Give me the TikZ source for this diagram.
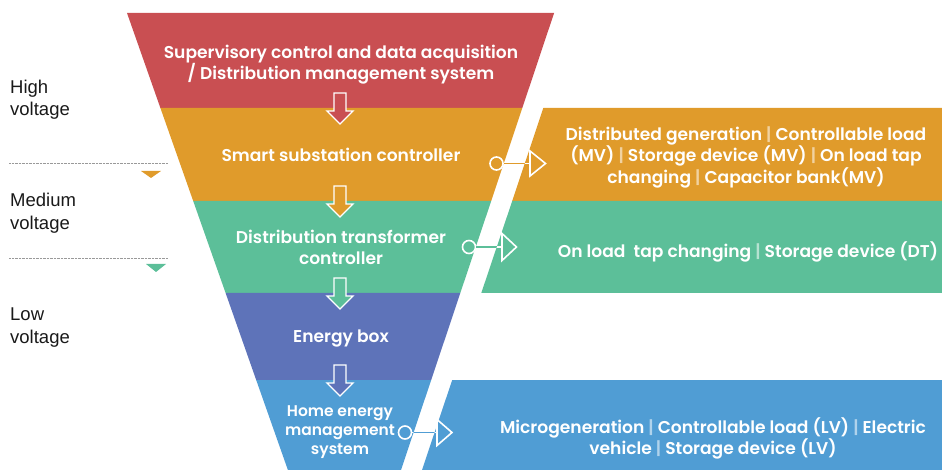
\documentclass[tikz,border=0pt]{standalone}
\usepackage{fontspec}
\setmainfont{Poppins}[BoldFont={Poppins SemiBold}]
\newfontfamily\arialfont{Liberation Sans}
\usetikzlibrary{calc}
\definecolor{cred}{RGB}{201,79,82}
\definecolor{corange}{RGB}{224,155,43}
\definecolor{cgreen}{RGB}{92,191,153}
\definecolor{cdblue}{RGB}{94,115,185}
\definecolor{clblue}{RGB}{80,157,212}
\newcommand\mysep[1]{\ {\color{white!55!#1}|}\ }
\tikzset{
  band/.style={fill=#1, draw=none},
  maintext/.style={text=white, font=\bfseries\fontsize{17.1}{21}\selectfont, align=center, inner sep=0pt},
  sidetext/.style={text=white, font=\bfseries\fontsize{17.1}{21.5}\selectfont, align=center, inner sep=0pt},
  levellabel/.style={anchor=north west, font=\arialfont\fontsize{18.5}{22.5}\selectfont, align=left, inner sep=0pt, text=black!90},
  dotline/.style={draw=black!40, line width=0.6pt, dash pattern=on 0.7pt off 0.7pt},
  conncirc/.style={circle, draw=white, line width=1.6pt, fill=#1, minimum size=13pt, inner sep=0pt},
  connline/.style={draw=white, line width=1.8pt},
  blockarrow/.pic={
    \path[fill=#1, draw=white, line width=1.3pt, line join=miter]
      (-6,-15) -- (6,-15) -- (6,3) -- (13,3) -- (0,16) -- (-13,3) -- (-6,3) -- cycle;
  },
}
\begin{document}
\begin{tikzpicture}[x=1pt,y=-1pt]
\useasboundingbox (0,0) rectangle (942,470);
% funnel bands
\path[band=cred] (127,13) -- (554.1,13) -- (522.3,108) -- (160.4,108) -- cycle;
\path[band=corange] (160.4,108) -- (522.3,108) -- (491.2,201) -- (193.2,201) -- cycle;
\path[band=cgreen] (193.2,201) -- (491.2,201) -- (460.3,293) -- (225.6,293) -- cycle;
\path[band=cdblue] (225.6,293) -- (460.3,293) -- (431.2,380) -- (256.2,380) -- cycle;
\path[band=clblue] (256.2,380) -- (431.2,380) -- (401,470) -- (287.9,470) -- cycle;
% right panels
\path[band=corange] (543.3,108) -- (942,108) -- (942,201) -- (512.2,201) -- cycle;
\path[band=cgreen] (512.2,201) -- (942,201) -- (942,293) -- (481.3,293) -- cycle;
\path[band=clblue] (452.2,380) -- (942,380) -- (942,470) -- (422,470) -- cycle;

% block arrows
\pic at (340,108) {blockarrow=cred};
\pic at (340,201) {blockarrow=corange};
\pic at (340,293) {blockarrow=cgreen};
\pic at (340,380) {blockarrow=cdblue};

% funnel texts
\node[maintext] (scada) at (341,64.5) {Supervisory control and data acquisition\\/ Distribution management system};
\node[maintext] (smart) at (341,154.5) {Smart substation controller};
\node[maintext] (dtc) at (341,247) {Distribution transformer\\controller};
\node[maintext] (ebox) at (341,338.5) {Energy box};
\node[maintext, font=\bfseries\fontsize{15.5}{19.2}\selectfont] (hems) at (340,432) {Home energy\\management\\system};

% right panel texts
\node[sidetext] (mvdev) at (746,157) {Distributed generation\mysep{corange}Controllable load\\(MV)\mysep{corange}Storage device (MV)\mysep{corange}On load tap\\changing\mysep{corange}Capacitor bank(MV)};
\node[sidetext] (dtdev) at (748,252) {On load\ \ tap changing\mysep{cgreen}Storage device (DT)};
\node[sidetext] (lvdev) at (713,438.5) {Microgeneration\mysep{clblue}Controllable load (LV)\mysep{clblue}Electric\\vehicle\mysep{clblue}Storage device (LV)};

% connectors
\node[conncirc=corange] (c1) at (496.5,163.5) {};
\coordinate (t1) at (530,163.5);
\node[conncirc=cgreen] (c2) at (469,247) {};
\coordinate (t2) at (502,247);
\node[conncirc=clblue] (c3) at (405,432.5) {};
\coordinate (t3) at (437,432.5);
\draw[connline] (c1.east) -- (t1);
\draw[connline] (c2.east) -- (t2);
\draw[connline] (c3.east) -- (t3);
\begin{scope}
  \clip (554.1,13) -- (575.1,13) -- (422,470) -- (401,470) -- cycle;
  \draw[draw=corange, line width=1.8pt] (c1.east) -- (t1);
  \draw[draw=cgreen, line width=1.8pt] (c2.east) -- (t2);
  \draw[draw=clblue, line width=1.8pt] (c3.east) -- (t3);
\end{scope}
\draw[white, line width=1.6pt, line join=miter] ($(t1)+(0,-12.5)$) -- ($(t1)+(15.5,0)$) -- ($(t1)+(0,12.5)$) -- cycle;
\draw[white, line width=1.6pt, line join=miter] ($(t2)+(0,-13.5)$) -- ($(t2)+(14.5,0)$) -- ($(t2)+(0,13.5)$) -- cycle;
\draw[white, line width=1.6pt, line join=miter] ($(t3)+(0,-13)$) -- ($(t3)+(15,0)$) -- ($(t3)+(0,13)$) -- cycle;

% left level labels
\node[levellabel] (hv) at (10,79.5) {High\\voltage};
\node[levellabel] (mv) at (10,193) {Medium\\voltage};
\node[levellabel] (lv) at (10,308) {Low\\voltage};
\coordinate (d1a) at (9,163); \coordinate (d1b) at (168,163);
\coordinate (d2a) at (9,258); \coordinate (d2b) at (168,258);
\draw[dotline] (d1a) -- (d1b);
\draw[dotline] (d2a) -- (d2b);
\fill[corange] (141,171) -- (161,171) -- (151,178) -- cycle;
\fill[cgreen] (146,264) -- (166,264) -- (156,272) -- cycle;
\end{tikzpicture}
\end{document}
